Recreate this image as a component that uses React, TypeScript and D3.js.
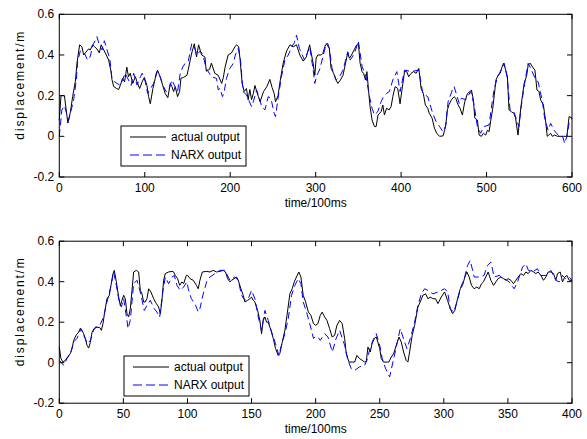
import React from "react";
import * as d3 from "d3";

// ---- data (time in 100ms units, displacement in m) ----
const topActual: [number, number][] = [
  [0, 0.08], [2, 0.2], [6, 0.2], [10, 0.065], [13, 0.12], [15.6, 0.195], [18.8, 0.27], [20.7, 0.36],
  [23.8, 0.45], [26.5, 0.44], [28.5, 0.4], [30.4, 0.41], [32.4, 0.42], [34.3, 0.43], [36.3, 0.425],
  [39, 0.45], [41.4, 0.44], [44, 0.43], [46.8, 0.41], [49, 0.45], [52, 0.425], [55, 0.4], [57.7, 0.375],
  [60.5, 0.32], [61.6, 0.28], [63.6, 0.245], [66.7, 0.236], [69.4, 0.23], [71.4, 0.25], [74, 0.285],
  [76.4, 0.268], [79, 0.34], [81, 0.293], [83, 0.31], [86, 0.26], [89, 0.293], [91, 0.268], [94, 0.235],
  [97, 0.268], [99.5, 0.29], [102.6, 0.25], [104.5, 0.195], [106.5, 0.16], [109.6, 0.236], [112.3, 0.285],
  [115, 0.325], [118, 0.293], [121, 0.25], [124, 0.21], [127, 0.19], [129.9, 0.26], [131.8, 0.244],
  [133.8, 0.22], [135.7, 0.244], [138.4, 0.195], [140.8, 0.22], [142.3, 0.285], [145.5, 0.29], [149.4, 0.3],
  [151, 0.33], [155, 0.41], [158, 0.455], [160.6, 0.39], [163, 0.45], [166.5, 0.4], [170.4, 0.39],
  [172, 0.32], [176, 0.33], [178, 0.36], [182, 0.31], [186, 0.3], [190, 0.26], [192, 0.29], [194, 0.34],
  [197.6, 0.4], [201.5, 0.41], [205.5, 0.44], [207.4, 0.45], [210, 0.44], [211.5, 0.38], [214, 0.26],
  [216.4, 0.22], [219, 0.235], [221, 0.18], [223, 0.23], [225, 0.18], [227, 0.21], [229, 0.25], [231, 0.22],
  [233, 0.195], [235, 0.17], [239, 0.22], [243, 0.245], [246.4, 0.28], [249, 0.24], [251.5, 0.21],
  [253, 0.17], [256, 0.2], [258, 0.26], [262, 0.36], [266, 0.42], [270, 0.45], [273.7, 0.44],
  [277.6, 0.45], [281.5, 0.4], [285.4, 0.37], [289, 0.39], [293, 0.45], [297, 0.36], [299, 0.3],
  [300.6, 0.385], [302.6, 0.4], [306.5, 0.4], [308.4, 0.408], [311.5, 0.45], [314, 0.457], [316, 0.432],
  [318, 0.335], [321, 0.31], [323.4, 0.28], [326, 0.26], [329, 0.277], [332, 0.3], [335, 0.36],
  [337.5, 0.41], [339.5, 0.384], [342, 0.4], [345, 0.425], [348, 0.45], [350, 0.457], [352, 0.36],
  [354.3, 0.318], [356, 0.31], [358.3, 0.277], [360, 0.318], [362, 0.22], [363.7, 0.146], [366, 0.08],
  [368.8, 0.048], [370.8, 0.048], [373, 0.105], [376.6, 0.121], [378.6, 0.154], [380.5, 0.105],
  [383, 0.138], [386, 0.13], [388.3, 0.146], [390.3, 0.195], [393, 0.244], [396, 0.236], [398.8, 0.16],
  [401, 0.228], [404, 0.318], [406.6, 0.318], [408.9, 0.293], [411.7, 0.31], [414.5, 0.318],
  [417.6, 0.31], [420.7, 0.334], [423.4, 0.236], [426, 0.21], [428.4, 0.154], [431.2, 0.138],
  [433, 0.113], [436.3, 0.089], [439, 0.04], [441.7, 0.015], [445, 0], [449, 0.002], [451, 0.03],
  [452.3, 0.055], [454.2, 0.13], [456, 0.155], [459, 0.18], [462, 0.195], [464, 0.187], [466.6, 0.155],
  [469, 0.138], [471.7, 0.105], [474.5, 0.17], [477.6, 0.21], [480.7, 0.22], [482.3, 0.228],
  [484.6, 0.18], [486.2, 0.09], [489.3, 0.08], [491.3, 0.006], [494, 0], [496.3, 0.015], [499, 0.006],
  [501, 0.03], [503, 0.023], [505, 0.08], [507, 0.13], [509, 0.2], [511, 0.277], [513.5, 0.3],
  [516, 0.31], [518, 0.34], [520, 0.36], [522.4, 0.326], [524.4, 0.293], [526.3, 0.13], [529, 0.121],
  [532, 0.113], [534, 0.089], [536.8, 0.006], [540, 0.138], [542, 0.2], [544, 0.26], [547, 0.3],
  [548.7, 0.35], [551, 0.36], [554, 0.34], [556.6, 0.326], [559, 0.228], [561.4, 0.22], [563.4, 0.178],
  [566.5, 0.155], [569, 0.08], [571, 0], [575, 0.015], [577, 0], [579.7, 0.006], [583, 0], [590, 0],
  [594, 0], [596.6, 0.097], [600, 0.09],
];

const topNarx: [number, number][] = [
  [0, 0], [3, 0.13], [6, 0.15], [9, 0.105], [11, 0.08], [14, 0.13], [16.8, 0.18], [20, 0.28], [21.5, 0.37],
  [24.6, 0.42], [27.7, 0.416], [30.4, 0.4], [33, 0.375], [36, 0.39], [39.4, 0.45], [42, 0.47], [44, 0.49],
  [46.8, 0.45], [50, 0.425], [52.7, 0.47], [55.8, 0.425], [59, 0.384], [61.6, 0.285], [64.4, 0.269],
  [67.5, 0.26], [70.6, 0.252], [73.3, 0.269], [77, 0.31], [81, 0.277], [84, 0.25], [87, 0.31], [91, 0.252],
  [95, 0.293], [97, 0.31], [100.6, 0.269], [103.4, 0.211], [105.7, 0.228], [110.4, 0.26], [114, 0.318],
  [118, 0.293], [122, 0.244], [125, 0.22], [128, 0.228], [131.8, 0.277], [134.5, 0.252], [138.4, 0.22],
  [141.5, 0.31], [144.7, 0.342], [147.4, 0.36], [151, 0.37], [155, 0.456], [158, 0.44], [161, 0.4],
  [165, 0.42], [168, 0.4], [172, 0.334], [178, 0.293], [184, 0.285], [186, 0.228], [188, 0.236],
  [191, 0.195], [193, 0.22], [195.6, 0.285], [199.6, 0.334], [203.5, 0.358], [206, 0.4], [209.4, 0.432],
  [212, 0.38], [215, 0.22], [219, 0.204], [225, 0.146], [227, 0.17], [231, 0.228], [237, 0.146],
  [240.6, 0.13], [244.5, 0.195], [247.6, 0.187], [251.5, 0.113], [253, 0.097], [256, 0.187], [260, 0.293],
  [264, 0.375], [268, 0.4], [272, 0.44], [275, 0.46], [277.6, 0.497], [281, 0.432], [287, 0.375],
  [293, 0.44], [297, 0.33], [299, 0.26], [301.4, 0.3], [304.5, 0.326], [307.6, 0.375], [312.3, 0.457],
  [316, 0.432], [319.2, 0.334], [324, 0.277], [328, 0.293], [332, 0.326], [337.6, 0.416], [340.4, 0.375],
  [345.4, 0.408], [350, 0.466], [354.4, 0.343], [359, 0.293], [363, 0.195], [366, 0.138], [368.8, 0.105],
  [372.7, 0.121], [376.6, 0.17], [379.4, 0.195], [383, 0.211], [386.3, 0.22], [390.3, 0.277],
  [395, 0.318], [398.8, 0.22], [404, 0.326], [411.7, 0.318], [420.7, 0.326], [425.4, 0.211],
  [431.2, 0.195], [434, 0.154], [437, 0.113], [441, 0.072], [445, 0.048], [449, 0.023], [452, 0.05],
  [455, 0.17], [460, 0.228], [462, 0.245], [468, 0.162], [470.5, 0.187], [475.6, 0.18], [481.5, 0.22],
  [485.4, 0.154], [489.3, 0.048], [493, 0.015], [497, 0.048], [503, 0.056], [505, 0.121], [509, 0.236],
  [513, 0.293], [517, 0.326], [520.6, 0.359], [524.4, 0.285], [527.5, 0.13], [532, 0.121], [537.8, 0.048],
  [541.6, 0.178], [545.5, 0.285], [548.7, 0.359], [552.6, 0.326], [557.6, 0.277], [560.3, 0.269],
  [565.4, 0.17], [568, 0.089], [572, 0.03], [575, 0.064], [579, 0.03], [585, 0], [589, 0], [591.5, -0.035],
  [594, 0], [596.6, 0.064], [600, 0.09],
];

const bottomActual: [number, number][] = [
  [0, 0.077], [1.3, 0.02], [2.9, 0.003], [4.7, 0.012], [6.5, 0.028], [8.6, 0.045], [10, 0.07], [11.2, 0.11],
  [13.3, 0.138], [15, 0.15], [16.4, 0.17], [17.7, 0.16], [19, 0.143], [20.3, 0.12], [21.6, 0.086],
  [22.9, 0.072], [24.2, 0.1], [25.5, 0.15], [27.3, 0.17], [29.4, 0.175], [31.5, 0.174], [32.8, 0.16],
  [34.1, 0.193], [35.4, 0.25], [37.2, 0.316], [39, 0.333], [40.3, 0.382], [41.9, 0.44], [42.9, 0.456],
  [44.5, 0.4], [46.3, 0.324], [47.6, 0.283], [48.9, 0.308], [50.2, 0.333], [51.5, 0.316], [52.8, 0.242],
  [54.1, 0.226], [55.4, 0.267], [56.7, 0.357], [58, 0.448], [60.1, 0.456], [61.9, 0.448], [63.2, 0.357],
  [64.5, 0.34], [65.8, 0.3], [67.1, 0.3], [68.4, 0.316], [69.7, 0.365], [71.5, 0.349], [73.6, 0.316],
  [75.7, 0.292], [77.5, 0.275], [78.8, 0.242], [80.1, 0.308], [81.4, 0.407], [82.7, 0.44], [85.3, 0.448],
  [87.9, 0.451], [89.2, 0.448], [90.5, 0.431], [92.3, 0.415], [93.9, 0.382], [95.7, 0.399], [97, 0.39],
  [99.1, 0.431], [100.1, 0.431], [102, 0.415], [104.5, 0.407], [107, 0.382], [108.4, 0.365],
  [109.7, 0.407], [111.6, 0.448], [115, 0.451], [117.5, 0.448], [120.1, 0.456], [122.7, 0.448],
  [125.3, 0.451], [127.9, 0.456], [129.7, 0.448], [131.3, 0.415], [133.1, 0.399], [134.4, 0.407],
  [136.5, 0.415], [138.3, 0.423], [139.6, 0.407], [141.7, 0.365], [143.5, 0.333], [144.8, 0.3],
  [146.9, 0.308], [148.7, 0.316], [150, 0.324], [151.3, 0.308], [152.6, 0.3], [154.7, 0.258],
  [156.5, 0.209], [157.8, 0.143], [159.1, 0.209], [160.4, 0.226], [161.7, 0.2], [163, 0.2], [165.1, 0.16],
  [166.9, 0.12], [168.7, 0.07], [170.8, 0.036], [172, 0.044], [173.9, 0.1], [176, 0.16], [178, 0.25],
  [179.9, 0.34], [181.7, 0.365], [183.3, 0.399], [185, 0.423], [186.9, 0.448], [188.5, 0.423],
  [190.3, 0.333], [192.2, 0.3], [194.3, 0.25], [196.3, 0.234], [198.3, 0.193], [200, 0.185],
  [201.8, 0.193], [203.6, 0.234], [205.1, 0.25], [207, 0.226], [208.8, 0.209], [210.9, 0.168],
  [212.9, 0.127], [214.8, 0.135], [216.6, 0.185], [218.7, 0.209], [220.7, 0.193], [222.6, 0.12],
  [223.9, 0.044], [226, 0.003], [228.6, 0.003], [230.4, 0.003], [232.2, 0.036], [234.3, 0.02],
  [236.3, 0.012], [238.2, 0.003], [239.5, 0.007], [240.8, 0.077], [242.6, 0.053], [244, 0.094],
  [245.9, 0.12], [247.3, 0.127], [248.5, 0.102], [250, 0.069], [251.2, 0.02], [253, 0.003], [257.1, 0.003],
  [259, 0.028], [260.8, 0.044], [262.9, 0.086], [265, 0.127], [266.8, 0.102], [268.6, 0.053],
  [270.6, 0.012], [272, 0.003], [273.3, 0.053], [275.3, 0.135], [277.2, 0.184], [279.8, 0.275],
  [281.6, 0.3], [283.7, 0.333], [285.8, 0.34], [287.6, 0.316], [289.4, 0.324], [291.5, 0.316],
  [293.5, 0.316], [295.4, 0.292], [298, 0.324], [300.6, 0.349], [302.9, 0.308], [305, 0.267],
  [306.8, 0.242], [308.6, 0.258], [310.7, 0.316], [312.8, 0.365], [314.6, 0.382], [316.4, 0.423],
  [318, 0.448], [319.8, 0.423], [321.6, 0.382], [323.7, 0.365], [325.8, 0.374], [327.6, 0.365],
  [329.4, 0.39], [330.9, 0.399], [332.7, 0.423], [334.6, 0.448], [336.7, 0.407], [338.8, 0.382],
  [340.6, 0.399], [342.4, 0.415], [344.5, 0.423], [346.6, 0.415], [348.4, 0.407], [350.2, 0.415],
  [352.3, 0.407], [354.4, 0.39], [356.2, 0.407], [358, 0.423], [360.1, 0.44], [362.2, 0.431],
  [364, 0.448], [365.8, 0.44], [367.9, 0.456], [370, 0.448], [371.8, 0.44], [373.6, 0.448],
  [375.7, 0.431], [377.8, 0.407], [379.6, 0.423], [381.4, 0.448], [383.5, 0.448], [385.6, 0.44],
  [387.4, 0.407], [388.7, 0.44], [390.8, 0.448], [392.6, 0.399], [394.4, 0.423], [396, 0.431],
  [397.8, 0.407], [400, 0.407],
];

const bottomNarx: [number, number][] = [
  [0, 0.012], [1.3, 0.003], [3.4, -0.013], [6, 0.02], [8.6, 0.045], [11.2, 0.102], [13.8, 0.12], [17, 0.168],
  [19, 0.135], [22.1, 0.094], [24.2, 0.11], [26.8, 0.16], [29.4, 0.185], [32, 0.19], [34.6, 0.226],
  [37.2, 0.3], [39.8, 0.365], [42.4, 0.448], [44.5, 0.382], [46.8, 0.3], [48.4, 0.275], [50.2, 0.316],
  [52.8, 0.209], [53.6, 0.168], [55.4, 0.209], [58, 0.39], [60.6, 0.407], [63.2, 0.349], [66.3, 0.258],
  [68.4, 0.283], [71, 0.308], [74.1, 0.267], [76.2, 0.25], [78.3, 0.225], [80.9, 0.357], [82.7, 0.423],
  [85.3, 0.39], [87.9, 0.423], [89.7, 0.431], [91.8, 0.382], [94.4, 0.357], [97, 0.374], [99.6, 0.399],
  [100.6, 0.365], [103, 0.316], [105.8, 0.292], [108.4, 0.25], [109.7, 0.267], [112.3, 0.34], [115, 0.4],
  [117.5, 0.423], [121.4, 0.44], [125.3, 0.456], [129.2, 0.456], [133.1, 0.407], [137, 0.423],
  [139.6, 0.407], [142.2, 0.333], [144.8, 0.308], [147.4, 0.316], [150, 0.357], [152.6, 0.316],
  [155.2, 0.226], [157.8, 0.16], [160.4, 0.258], [163, 0.209], [165.6, 0.152], [168.7, 0.094],
  [171.3, 0.036], [173.9, 0.1], [176, 0.143], [178.6, 0.217], [181.2, 0.333], [183.8, 0.382],
  [186.4, 0.415], [188.5, 0.39], [190.3, 0.3], [192.9, 0.25], [195.5, 0.19], [198.3, 0.12], [200, 0.13],
  [201.8, 0.127], [203.6, 0.11], [207, 0.143], [209.6, 0.127], [213, 0.053], [216, 0.12], [218.7, 0.16],
  [222.6, 0.086], [225.2, 0.012], [227.8, -0.03], [230.4, -0.038], [234.3, -0.02], [238.2, -0.013],
  [240, 0.012], [242, 0.061], [244.6, 0.11], [247.3, 0.143], [250, 0.086], [252, 0.02], [254.6, -0.03],
  [257.7, -0.07], [260.3, 0.003], [262.9, 0.077], [266, 0.168], [268.1, 0.127], [271.2, 0.069],
  [273.8, 0.118], [277.2, 0.2], [279.8, 0.283], [282.4, 0.34], [285, 0.365], [287.6, 0.357],
  [291.5, 0.34], [295.4, 0.349], [298, 0.357], [300.6, 0.365], [303, 0.349], [305, 0.267], [307.6, 0.25],
  [310.7, 0.308], [313.3, 0.374], [316, 0.415], [318.5, 0.48], [320.6, 0.505], [323.7, 0.423],
  [327.6, 0.423], [331.4, 0.431], [334, 0.48], [336.7, 0.497], [339.3, 0.423], [343.2, 0.431],
  [347.1, 0.415], [351, 0.399], [354.9, 0.365], [357.5, 0.399], [361.4, 0.472], [364, 0.489],
  [366, 0.456], [369.2, 0.448], [373, 0.464], [375.7, 0.431], [379.6, 0.431], [383.5, 0.456],
  [387.4, 0.407], [390, 0.399], [392.6, 0.431], [395, 0.415], [397.8, 0.423], [400, 0.407],
];

const legendLabels = ["actual output", "NARX output"];
const xAxisLabel = "time/100ms";
const yAxisLabel = "displacement/m";
const yDomain: [number, number] = [-0.2, 0.6];

const FONT = "'Liberation Sans', Arial, Helvetica, sans-serif";
const BLUE = "#0000ff";

type PanelProps = {
  actual: [number, number][];
  narx: [number, number][];
  xMax: number;
  xTicks: number;
  top: number;
  bottom: number;
  legendX: number;
  legendY: number;
};

function Panel({ actual, narx, xMax, xTicks, top, bottom, legendX, legendY }: PanelProps) {
  const left = 59.3;
  const right = 572;
  const tick = 5;

  const x = d3.scaleLinear().domain([0, xMax]).range([left, right]);
  const y = d3.scaleLinear().domain(yDomain).range([bottom, top]);
  const line = d3.line<[number, number]>()
    .x((d) => x(d[0]))
    .y((d) => y(d[1]));

  const fmt = (v: number) => String(+v.toFixed(1));

  return (
    <g>
      <rect x={left} y={top} width={right - left} height={bottom - top} fill="#fff" />
      <path d={line(actual) || ""} fill="none" stroke="#000" strokeWidth={1} strokeLinejoin="round" />
      <path d={line(narx) || ""} fill="none" stroke={BLUE} strokeWidth={1} strokeDasharray="7,4" strokeLinejoin="round" />

      {x.ticks(xTicks).map((t) => (
        <g key={"x" + t}>
          <line x1={x(t)} x2={x(t)} y1={bottom} y2={bottom - tick} stroke="#000" />
          <line x1={x(t)} x2={x(t)} y1={top} y2={top + tick} stroke="#000" />
          <text x={x(t)} y={bottom + 15} textAnchor="middle" fontSize={12} fontFamily={FONT}>{fmt(t)}</text>
        </g>
      ))}
      {y.ticks(4).map((t) => (
        <g key={"y" + t}>
          <line x1={left} x2={left + tick} y1={y(t)} y2={y(t)} stroke="#000" />
          <line x1={right} x2={right - tick} y1={y(t)} y2={y(t)} stroke="#000" />
          <text x={left - 5} y={y(t) + 4} textAnchor="end" fontSize={12} fontFamily={FONT}>{fmt(t)}</text>
        </g>
      ))}
      <rect x={left} y={top} width={right - left} height={bottom - top} fill="none" stroke="#000" strokeWidth={1} />

      <text x={(left + right) / 2} y={bottom + 30} textAnchor="middle" fontSize={12} fontFamily={FONT}>{xAxisLabel}</text>
      <text
        transform={`translate(24,${(top + bottom) / 2 - 10}) rotate(-90)`}
        textAnchor="middle" fontSize={12} fontFamily={FONT}
        textLength={108} lengthAdjust="spacing"
      >{yAxisLabel}</text>

      <g transform={`translate(${legendX},${legendY})`}>
        <rect x={0} y={0} width={125} height={40} fill="#fff" stroke="#000" strokeWidth={1} />
        <line x1={9} x2={45} y1={11} y2={11} stroke="#000" />
        <text x={50} y={15} fontSize={12} fontFamily={FONT}>{legendLabels[0]}</text>
        <line x1={9} x2={45} y1={29} y2={29} stroke={BLUE} strokeDasharray="9,4" />
        <text x={50} y={33} fontSize={12} fontFamily={FONT}>{legendLabels[1]}</text>
      </g>
    </g>
  );
}

export default function App() {
  return (
    <svg width={587} height={439} style={{ position: "absolute", left: 0, top: 0, background: "#fff" }}>
      <rect width={587} height={439} fill="#fff" />
      <Panel actual={topActual} narx={topNarx} xMax={600} xTicks={6} top={14.3} bottom={177} legendX={121} legendY={126} />
      <Panel actual={bottomActual} narx={bottomNarx} xMax={400} xTicks={8} top={241.2} bottom={403.2} legendX={124} legendY={356} />
    </svg>
  );
}
